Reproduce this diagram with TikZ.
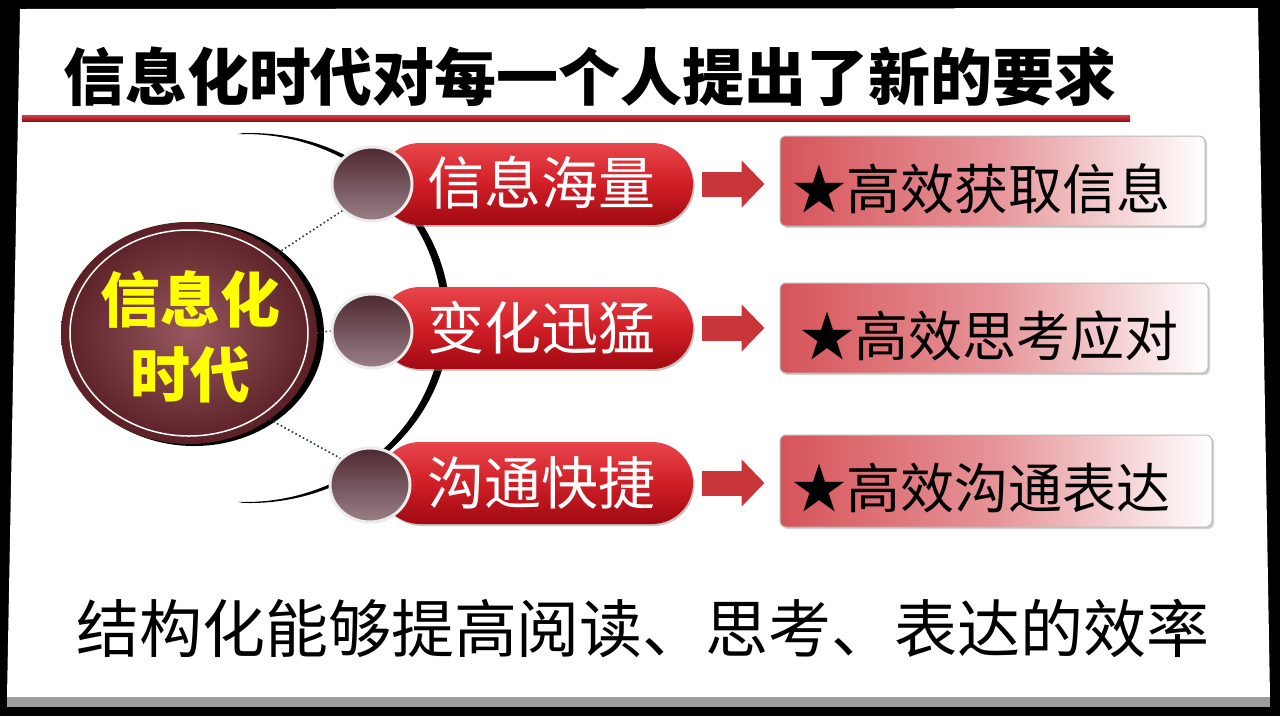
\documentclass[tikz,border=0pt]{standalone}
\usepackage{fontspec}
\setmainfont{Noto Sans CJK SC}
\usetikzlibrary{shapes.geometric,shadows,arrows.meta,calc}
\definecolor{pillTop}{HTML}{E8464C}
\definecolor{pillMid}{HTML}{D01E26}
\definecolor{pillBot}{HTML}{A00A12}
\definecolor{boxL}{HTML}{D6545A}
\definecolor{boxM}{HTML}{E69498}
\definecolor{arrowC}{HTML}{C8363A}
\definecolor{eraIn}{HTML}{985860}
\definecolor{eraOut}{HTML}{5A2026}
\definecolor{dotTop}{HTML}{4E2830}
\definecolor{dotBot}{HTML}{9A8088}
\definecolor{lineRed}{HTML}{C0121C}
\definecolor{dotLine}{HTML}{2A3646}
\definecolor{eraYellow}{HTML}{FFFF00}
\begin{document}
\begin{tikzpicture}[x=1pt,y=-1pt,
  pill/.style={rectangle, rounded corners=41, minimum width=314, minimum height=82, inner sep=0,
    top color=pillTop, bottom color=pillBot, middle color=pillMid,
    drop shadow={shadow xshift=1.5pt, shadow yshift=-2pt, fill=black!45}},
  pilltext/.style={text=white, font=\fontsize{57}{57}\selectfont, inner sep=0},
  dotnode/.style={ellipse, minimum width=80, minimum height=74, inner sep=0, draw=black!8, line width=3,
    top color=dotTop, bottom color=dotBot,
    drop shadow={shadow xshift=1pt, shadow yshift=-1pt, fill=black!35}},
  reqbox/.style={rectangle, rounded corners=6, inner sep=0, left color=boxL, right color=white, middle color=boxM,
    draw=black!28, line width=1,
    drop shadow={shadow xshift=2pt, shadow yshift=-2pt, fill=black!35}},
  reqtext/.style={text=black, font=\fontsize{54}{54}\selectfont, inner sep=0, anchor=west},
  blockarrow/.style={draw=arrowC, line width=25pt, shorten <=9pt, shorten >=15pt,
    -{Triangle[length=23pt 0 0, width=46pt 0 0]}},
  dotlink/.style={draw=dotLine, dash pattern=on 1.6pt off 2.6pt, line width=1.6pt}
]
\useasboundingbox (0,0) rectangle (1280,716);
% frame
\fill[black] (0,0) rectangle (1280,716);
\fill[white] (20,9) -- (1258,8) -- (1270,697) -- (7,697) -- cycle;
\fill[black!38] (7,697) rectangle (1270,707);

% title
\node (title) at (590,77) {\fontsize{62}{62}\selectfont\bfseries 信息化时代对每一个人提出了新的要求};
\shade[top color=lineRed!80!white, bottom color=lineRed!80!black] (22,115) rectangle (1130,121);

% big arc (crescent)
\fill[black] (250,318) ++(-92:200 and 185) arc[start angle=-92, end angle=92, x radius=200, y radius=185]
  -- ($(245,318)+(92:197 and 184)$) arc[start angle=92, end angle=-92, x radius=197, y radius=184] -- cycle;

% big ellipse
\fill[black] (194,334) ellipse[x radius=130, y radius=112];
\node (era) [ellipse, minimum width=256, minimum height=222, inner sep=0, inner color=eraIn, outer color=eraOut] at (189,333) {};
\draw[white, line width=1.5pt] (189,333) ellipse[x radius=119, y radius=103];
\node (eraText) [align=center, text=eraYellow, font=\fontsize{60}{75}\selectfont\bfseries, inner sep=0] at (190,337) {信息化\\时代};

% pills
\node (p1) [pill] at (536,184) {};
\node (p2) [pill] at (536,328) {};
\node (p3) [pill] at (536,483) {};
\node (c1) [dotnode] at (372,184) {};
\node (c2) [dotnode] at (372,331) {};
\node (c3) [dotnode] at (370,485) {};
\node (t1) [pilltext] at (541,183) {信息海量};
\node (t2) [pilltext] at (541,328) {变化迅猛};
\node (t3) [pilltext] at (541,483) {沟通快捷};

% dotted links
\draw[dotlink] (era.42) -- (c1.222);
\draw[dotlink] (era.east) -- (c2.west);
\draw[dotlink] (era.-47) -- (c3.138);

% boxes
\node (b1) [reqbox, minimum width=425, minimum height=90] at (992.5,181) {};
\node (b2) [reqbox, minimum width=428, minimum height=90] at (994,328) {};
\node (b3) [reqbox, minimum width=432, minimum height=92] at (996,481) {};
\node (s1) [reqtext] at (792,189) {★高效获取信息};
\node (s2) [reqtext] at (800,336) {★高效思考应对};
\node (s3) [reqtext] at (792,488) {★高效沟通表达};

% arrows
\draw[blockarrow] (p1.east) -- (p1.east -| b1.west);
\draw[blockarrow] (p2.east) -- (p2.east -| b2.west);
\draw[blockarrow] (p3.east) -- (p3.east -| b3.west);

% footer
\node (foot) at (643,628) {\fontsize{63}{63}\selectfont 结构化能够提高阅读、思考、表达的效率};
\end{tikzpicture}
\end{document}
